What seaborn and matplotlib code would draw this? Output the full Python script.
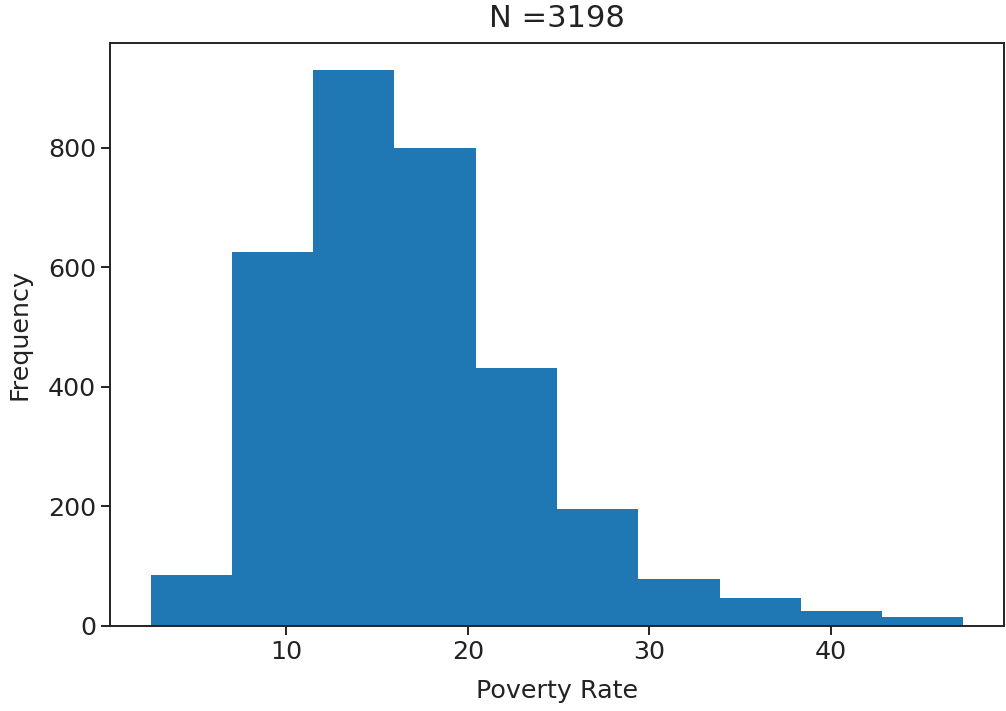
import numpy as np
import pandas as pd
import matplotlib
matplotlib.use("Agg")
import matplotlib.pyplot as plt
import seaborn as sns

# bin edges and counts
bin_edges = [2.55, 7.02, 11.50, 15.97, 20.44, 24.92, 29.39, 33.86, 38.34, 42.81, 47.28]
counts = [84, 625, 929, 800, 432, 195, 78, 47, 24, 15]
n_total = 3198

centers = [(a + b) / 2 for a, b in zip(bin_edges[:-1], bin_edges[1:])]
df = pd.DataFrame({"Poverty Rate": centers, "count": counts})

plt.rcParams["font.family"] = ["DejaVu Sans"]
plt.rcParams["font.size"] = 18.3

fig = plt.figure(figsize=(10.06, 7.11), dpi=100)
ax = fig.add_axes([110 / 1006, 1 - 625.7 / 711, (1004 - 110) / 1006, (625.7 - 42.7) / 711])

sns.histplot(data=df, x="Poverty Rate", weights="count", bins=bin_edges,
             color="#1f77b4", alpha=1, linewidth=0, ax=ax)

ax.set_xlim(0.31, 49.52)
ax.set_xticks([10, 20, 30, 40])
ax.set_yticks([0, 200, 400, 600, 800])
ax.set_ylabel("Frequency", labelpad=12, color="#222222")
ax.set_xlabel("Poverty Rate", labelpad=11, color="#222222")
ax.set_title("N =" + str(n_total), fontsize=22, pad=11, color="#222222")

for s in ax.spines.values():
    s.set_linewidth(1.4)
    s.set_color("#222222")
ax.tick_params(length=6.5, width=1.4, colors="#222222", labelcolor="#222222")

fig.savefig("out.png", dpi=100)
